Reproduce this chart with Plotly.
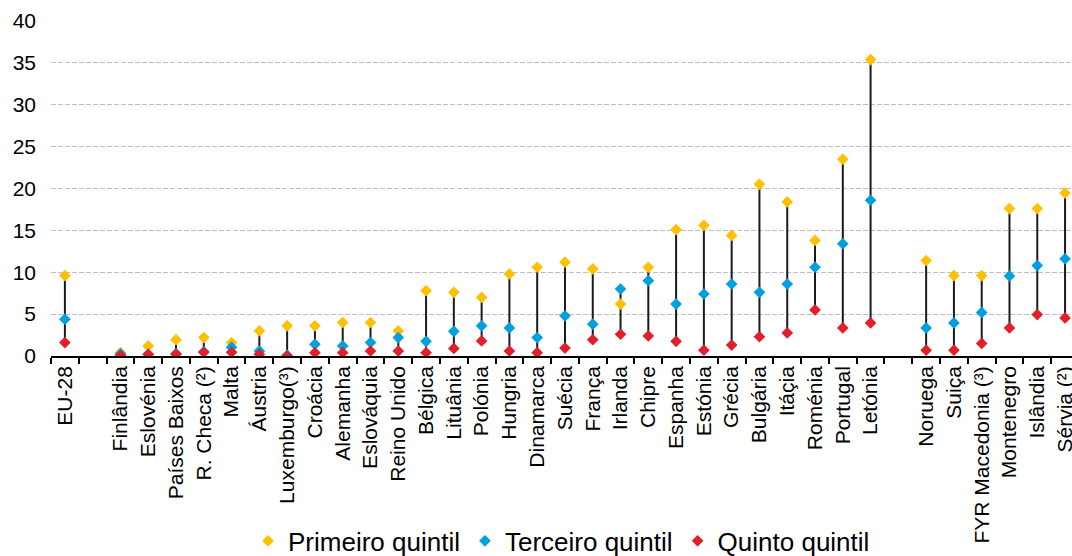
import plotly.graph_objects as go

# Categories (blank strings are spacer slots)
countries = ["EU-28", " ", "Finlândia", "Eslovénia", "Países Baixos", "R. Checa (²)",
             "Malta", "Áustria", "Luxemburgo(³)", "Croácia", "Alemanha", "Eslováquia",
             "Reino Unido", "Bélgica", "Lituânia", "Polónia", "Hungria", "Dinamarca", "Suécia",
             "França", "Irlanda", "Chipre", "Espanha", "Estónia", "Grécia", "Bulgária", "Itáçia",
             "Roménia", "Portugal", "Letónia", "  ", "Noruega", "Suiça",
             "FYR Macedonia (³)", "Montenegro", "Islândia", "Sérvia (²)"]

primeiro = [9.6, None, 0.4, 1.2, 1.95, 2.2, 1.6, 3.0, 3.6, 3.6, 4.0, 4.0, 3.0, 7.8, 7.6, 7.0,
            9.8, 10.6, 11.2, 10.4, 6.2, 10.6, 15.1, 15.6, 14.4, 20.5, 18.4, 13.8, 23.5, 35.4,
            None, 11.4, 9.6, 9.6, 17.6, 17.6, 19.45]
terceiro = [4.4, None, 0.25, 0.2, 0.3, 0.5, 1.05, 0.6, 0.1, 1.4, 1.2, 1.6, 2.2, 1.75, 2.95, 3.6,
            3.35, 2.2, 4.8, 3.8, 8.0, 9.0, 6.2, 7.4, 8.6, 7.6, 8.6, 10.6, 13.4, 18.6,
            None, 3.35, 3.95, 5.2, 9.55, 10.8, 11.6]
quinto = [1.6, None, 0.05, 0.2, 0.2, 0.45, 0.45, 0.2, 0.0, 0.4, 0.4, 0.6, 0.6, 0.4, 0.9, 1.8,
          0.6, 0.4, 0.95, 1.95, 2.6, 2.4, 1.75, 0.7, 1.3, 2.3, 2.75, 5.5, 3.35, 3.95,
          None, 0.7, 0.7, 1.5, 3.35, 4.95, 4.55]

series_names = ["Primeiro quintil", "Terceiro quintil", "Quinto quintil"]
series_colors = ["#FFC000", "#00A0E0", "#E2202C"]
y_ticks = [0, 5, 10, 15, 20, 25, 30, 35, 40]

FONT = "Arial, Liberation Sans, sans-serif"

fig = go.Figure()

# high-low connecting lines
lx, ly = [], []
for c, a, b, d in zip(countries, primeiro, terceiro, quinto):
    if a is None:
        continue
    vals = [a, b, d]
    lx += [c, c, None]
    ly += [min(vals), max(vals), None]
fig.add_trace(go.Scatter(x=lx, y=ly, mode="lines", line=dict(color="#1a1a1a", width=2),
                         showlegend=False, hoverinfo="skip", connectgaps=False))

for name, vals, col in zip(series_names, [primeiro, terceiro, quinto], series_colors):
    fig.add_trace(go.Scatter(x=countries, y=vals, mode="markers", name=name,
                             marker=dict(symbol="diamond", size=9, color=col,
                                         line=dict(width=0))))

fig.update_layout(
    width=1072, height=556,
    margin=dict(l=51, r=0, t=21, b=200, autoexpand=False),
    paper_bgcolor="white", plot_bgcolor="white",
    font=dict(family=FONT, color="black"),
    showlegend=True,
    legend=dict(orientation="h", x=0.5, xanchor="center", y=-0.552, yanchor="middle",
                font=dict(size=26, family=FONT, color="black"),
                bgcolor="rgba(0,0,0,0)"),
    xaxis=dict(type="category", categoryorder="array", categoryarray=countries,
               range=[-0.5, 36.25], tickson="boundaries", ticks="outside", ticklen=6,
               tickcolor="black", tickwidth=1.5, showline=True, linecolor="black", linewidth=1.5,
               tickangle=-90, tickfont=dict(size=21, family=FONT, color="black"),
               showgrid=False, zeroline=False, fixedrange=True, automargin=False),
    yaxis=dict(range=[0, 40], tickvals=y_ticks, showgrid=True, gridcolor="#BFBFBF",
               gridwidth=1, griddash="5px,2px", zeroline=False, showline=False,
               ticks="", ticklabelstandoff=14, automargin=False,
               tickfont=dict(size=21, family=FONT, color="black")),
)

fig.write_html("out.html")
